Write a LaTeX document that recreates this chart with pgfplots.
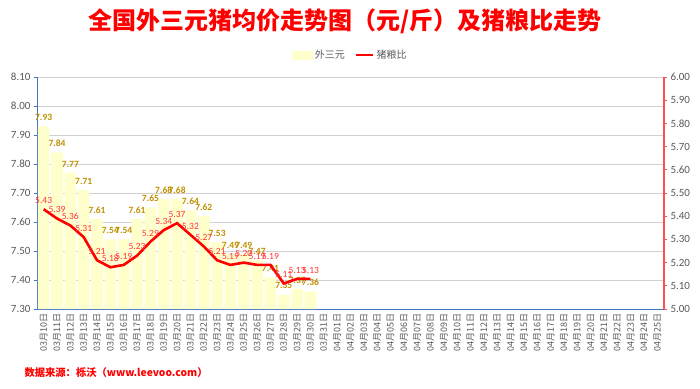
\documentclass[border=0pt]{standalone}
\usepackage{pgfplots}
\pgfplotsset{compat=1.18}
\usepackage{pgfplotstable}
\usepackage{fontspec}
\setmainfont{Carlito}
\newfontfamily\cjk{Noto Sans CJK SC}
\definecolor{bary}{HTML}{FFFFCC}
\definecolor{barlab}{HTML}{BF9000}
\definecolor{axblue}{HTML}{4472C4}
\definecolor{txtgray}{HTML}{595959}
\definecolor{lablred}{HTML}{FF3333}
\definecolor{axred}{HTML}{FF5050}

\pgfplotstableread{
x price
0 7.93
1 7.84
2 7.77
3 7.71
4 7.61
5 7.54
6 7.54
7 7.61
8 7.65
9 7.68
10 7.68
11 7.64
12 7.62
13 7.53
14 7.49
15 7.49
16 7.47
17 7.41
18 7.35
19 7.37
20 7.36
}\pricetab

\pgfplotstableread{
x ratio
0 5.43
1 5.39
2 5.36
3 5.31
4 5.21
5 5.18
6 5.19
7 5.23
8 5.29
9 5.34
10 5.37
11 5.32
12 5.27
13 5.21
14 5.19
15 5.20
16 5.19
17 5.19
18 5.11
19 5.13
20 5.13
}\ratiotab

\begin{document}
\begin{tikzpicture}[x=1pt,y=1pt]
\path[use as bounding box] (0,0) rectangle (700,388);
\node[font=\cjk\bfseries\fontsize{24}{28}\selectfont, text=red] at (345,367) {全国外三元猪均价走势图（元/斤）及猪粮比走势};
\node[anchor=west, font=\cjk\bfseries\fontsize{10.3}{12}\selectfont, text=red] at (21,15) {数据来源：栎沃（www.leevoo.com）};
\begin{axis}[
  at={(37pt,79pt)}, anchor=south west,
  width=627pt, height=232pt, scale only axis,
  xmin=-0.5, xmax=46.5, ymin=7.3, ymax=8.1,
  axis x line*=bottom, axis y line*=left,
  x axis line style={axblue, line width=0.9pt},
  y axis line style={axblue, line width=0.9pt},
  ytick={7.3,7.4,7.5,7.6,7.7,7.8,7.9,8.0,8.1},
  ymajorgrids, grid style={black!18, line width=0.7pt},
  tick align=outside,
  ytick style={axblue},
  major tick length=3pt,
  xtick={0,...,46},
  xtick style={draw=none},
  minor xtick={-0.5,0.5,...,46.5},
  minor tick length=4pt,
  minor tick style={axblue, line width=0.8pt},
  xticklabels={03月10日,03月11日,03月12日,03月13日,03月14日,03月15日,03月16日,03月17日,03月18日,03月19日,03月20日,03月21日,03月22日,03月23日,03月24日,03月25日,03月26日,03月27日,03月28日,03月29日,03月30日,03月31日,04月01日,04月02日,04月03日,04月04日,04月05日,04月06日,04月07日,04月08日,04月09日,04月10日,04月11日,04月12日,04月13日,04月14日,04月15日,04月16日,04月17日,04月18日,04月19日,04月20日,04月21日,04月22日,04月23日,04月24日,04月25日},
  x tick label style={rotate=90, anchor=east, font=\cjk\fontsize{9}{10}\selectfont, text=txtgray, inner sep=1pt, yshift=0pt},
  y tick label style={font=\fontsize{11}{12}\selectfont, text=txtgray},
  /pgf/number format/.cd, fixed, fixed zerofill, precision=2, assume math mode=true,
]
\addplot[ybar, bar width=11.6pt, bar shift=0pt, fill=bary, draw=none,
  nodes near coords,
  every node near coord/.append style={font=\bfseries\fontsize{9.5}{10}\selectfont, text=barlab, anchor=south, yshift=2pt}]
  table[x=x, y=price] {\pricetab};
\end{axis}
\begin{axis}[
  at={(37pt,79pt)}, anchor=south west,
  width=627pt, height=232pt, scale only axis,
  xmin=-0.5, xmax=46.5, ymin=5, ymax=6,
  axis y line*=right, axis x line=none,
  y axis line style={axred, line width=1.2pt},
  ytick={5.0,5.1,5.2,5.3,5.4,5.5,5.6,5.7,5.8,5.9,6.0},
  tick align=outside, major tick length=3pt,
  ytick style={axred, line width=0.9pt},
  y tick label style={font=\fontsize{11}{12}\selectfont, text=txtgray},
  legend style={at={(0.5,1)}, anchor=center, yshift=22pt, draw=none, fill=none,
    legend columns=2, font=\cjk\fontsize{10}{12}\selectfont, text=txtgray,
    /tikz/every even column/.append style={column sep=8pt}},
  /pgf/number format/.cd, fixed, fixed zerofill, precision=2, assume math mode=true,
]
\addlegendimage{legend image code/.code={\fill[bary] (0pt,-4pt) rectangle (20pt,4pt);}}
\addlegendentry{外三元}
\addplot[red, line width=2.6pt, mark=none,
  nodes near coords,
  every node near coord/.append style={font=\fontsize{9.5}{10}\selectfont, text=lablred, anchor=south, yshift=1pt}]
  table[x=x, y=ratio] {\ratiotab};
\addlegendentry{猪粮比}
\end{axis}
\end{tikzpicture}
\end{document}
